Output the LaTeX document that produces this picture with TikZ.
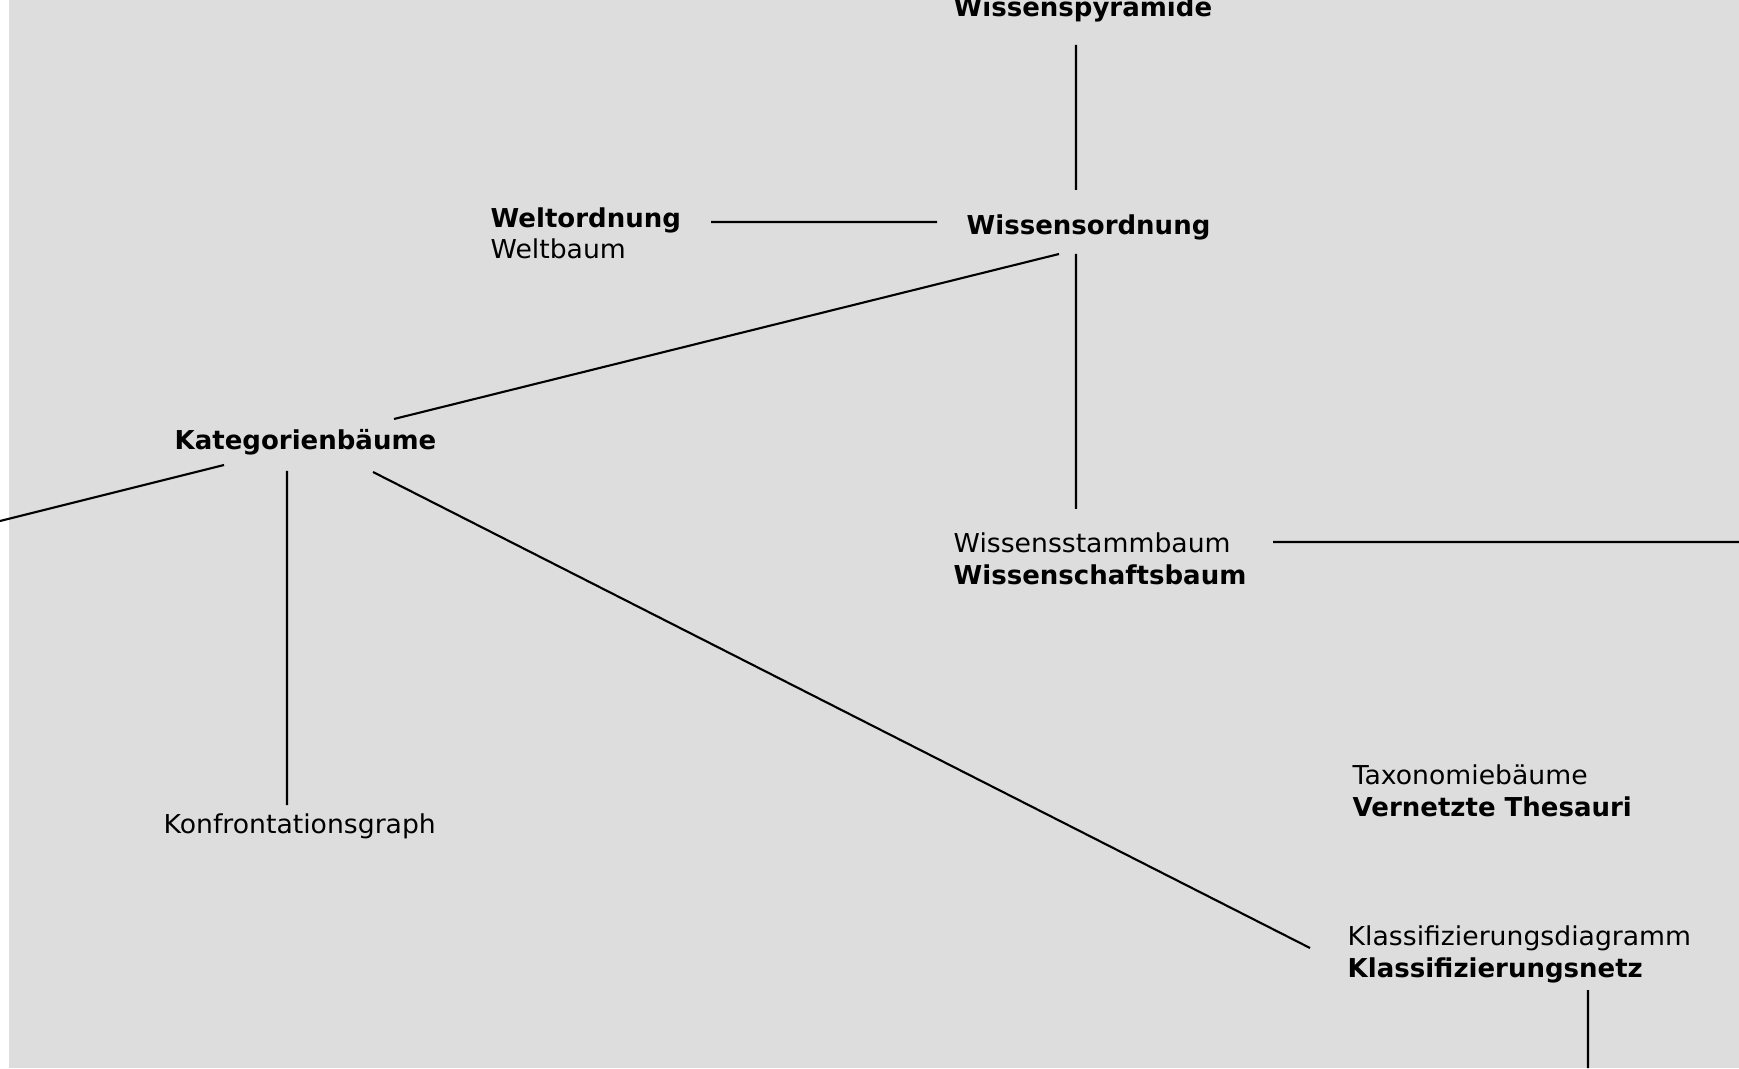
\documentclass[tikz,border=0pt]{standalone}
\usepackage{fontspec}
\setmainfont{DejaVu Sans}[UprightFeatures={FakeStretch=1.025}]
\usepackage{tikz}
\usepackage{xcolor}

\definecolor{bggray}{RGB}{221,221,221}

\tikzset{
  lbl/.style={anchor=base west, inner sep=0pt, align=left, font=\fontsize{7.4}{9.1}\selectfont},
  edge/.style={line width=0.6pt}
}

\begin{document}
\begin{tikzpicture}
  \clip (0,0) rectangle (17.39,10.68);
  \fill[bggray] (0.09,0) rectangle (17.39,10.68);

  % base west sits on the last line of each label
  \node[lbl] (pyr)  at (9.53,10.51) {\textbf{Wissenspyramide}};
  \node[lbl] (wo)   at (9.66,8.33)  {\textbf{Wissensordnung}};
  \node[lbl] (welt) at (4.90,8.09)  {\textbf{Weltordnung}\\Weltbaum};
  \node[lbl] (wsb)  at (9.53,4.84)  {Wissensstammbaum\\\textbf{Wissenschaftsbaum}};
  \node[lbl] (kat)  at (1.74,6.18)  {\textbf{Kategorienbäume}};
  \node[lbl] (konf) at (1.63,2.35)  {Konfrontationsgraph};
  \node[lbl] (tax)  at (13.52,2.52) {Taxonomiebäume\\\textbf{Vernetzte Thesauri}};
  \node[lbl] (kla)  at (13.47,0.91) {Klassifizierungsdiagramm\\\textbf{Klassifizierungsnetz}};

  \coordinate (rightend)  at (17.39,5.26);
  \coordinate (leftend)   at (0,5.47);
  \coordinate (bottomend) at (15.88,0);

  \draw[edge] ([xshift=12.3mm,yshift=-2.8mm]pyr.base west) -- ([xshift=11mm,yshift=4.5mm]wo.base west);
  \draw[edge] ([xshift=22.1mm,yshift=3.7mm]welt.base west) -- ([xshift=-2.9mm,yshift=1.3mm]wo.base west);
  \draw[edge] ([xshift=9.3mm,yshift=-1.9mm]wo.base west) -- ([xshift=22mm,yshift=3.1mm]kat.base west);
  \draw[edge] ([xshift=11mm,yshift=-1.9mm]wo.base west) -- ([xshift=12.3mm,yshift=7.5mm]wsb.base west);
  \draw[edge] ([xshift=32mm,yshift=4.2mm]wsb.base west) -- (rightend);
  \draw[edge] ([xshift=5mm,yshift=-1.5mm]kat.base west) -- (leftend);
  \draw[edge] ([xshift=11.3mm,yshift=-2.1mm]kat.base west) -- ([xshift=12.4mm,yshift=2.8mm]konf.base west);
  \draw[edge] ([xshift=19.9mm,yshift=-2.2mm]kat.base west) -- ([xshift=-3.7mm,yshift=2.9mm]kla.base west);
  \draw[edge] ([xshift=24.1mm,yshift=-1.3mm]kla.base west) -- (bottomend);
\end{tikzpicture}
\end{document}
